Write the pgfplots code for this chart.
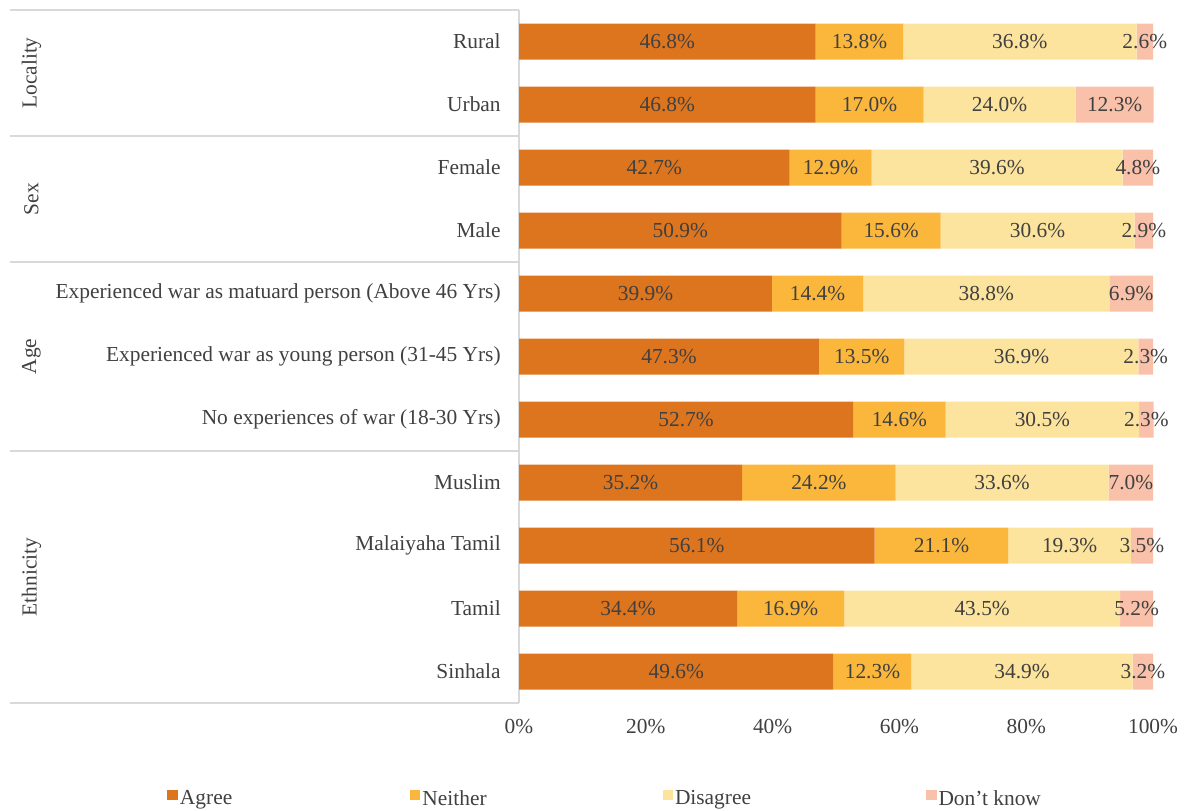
\documentclass[border=0pt]{standalone}
\usepackage{fontspec}
\setmainfont{Liberation Serif}
\usepackage{pgfplots}
\usepackage{pgfplotstable}
\pgfplotsset{compat=1.18}
\definecolor{agree}{RGB}{221,117,31}
\definecolor{neither}{RGB}{251,183,60}
\definecolor{disagree}{RGB}{253,228,158}
\definecolor{dk}{RGB}{250,193,170}
\definecolor{txt}{RGB}{64,64,64}
\definecolor{sep}{RGB}{217,217,217}
\pgfplotstableread{
y agree neither disagree dk
0 49.6 12.3 34.9 3.2
1 34.4 16.9 43.5 5.2
2 56.1 21.1 19.3 3.5
3 35.2 24.2 33.6 7.0
4 52.7 14.6 30.5 2.3
5 47.3 13.5 36.9 2.3
6 39.9 14.4 38.8 6.9
7 50.9 15.6 30.6 2.9
8 42.7 12.9 39.6 4.8
9 46.8 17.0 24.0 12.3
10 46.8 13.8 36.8 2.6
}\data
\begin{document}
\fontsize{21.4}{25}\selectfont
\begin{tikzpicture}
\begin{axis}[
  xbar stacked,
  scale only axis, width=634pt, height=693pt,
  xmin=0, xmax=100, ymin=-0.5, ymax=10.5,
  enlarge y limits=false,
  bar width=36pt,
  ytick={0,...,10},
  yticklabels={Sinhala, Tamil, Malaiyaha Tamil, Muslim, No experiences of war (18-30 Yrs), Experienced war as young person (31-45 Yrs), Experienced war as matuard person (Above 46 Yrs), Male, Female, Urban, Rural},
  xtick={0,20,...,100},
  xticklabel={\pgfmathprintnumber{\tick}\%},
  major tick length=0pt,
  axis line style={draw=none},
  clip=false,
  /pgf/number format/assume math mode=true,
  tick label style={text=txt},
  yticklabel style={xshift=-11pt},
  xticklabel style={yshift=-9pt},
  nodes near coords={\pgfmathprintnumber[fixed,fixed zerofill,precision=1]{\pgfplotspointmeta}\%},
  every node near coord/.append style={text=txt},
  legend columns=4,
  legend cell align=left,
  legend style={at={(rel axis cs:0.136,-0.139)}, anchor=center, draw=none, fill=none, inner sep=0pt, text=txt,
    /tikz/every even column/.append style={column sep=1pt}},
  legend image code/.code={\path[#1,draw=none] (0pt,-1pt) rectangle (10.5pt,9.5pt);},
]
\addplot[fill=agree,draw=none] table[x=agree,y=y]{\data};
\addplot[fill=neither,draw=none] table[x=neither,y=y]{\data};
\addplot[fill=disagree,draw=none] table[x=disagree,y=y]{\data};
\addplot[fill=dk,draw=none] table[x=dk,y=y]{\data};
\legend{\makebox[227pt][l]{Agree},\makebox[237pt][l]{Neither},\makebox[248pt][l]{Disagree},Don't know}
\draw[sep,line width=1.5pt] (axis cs:0,-0.5) -- (axis cs:0,10.5);
\draw[sep,line width=1.5pt] (axis cs:-80.3,10.5) -- (axis cs:0,10.5);
\draw[sep,line width=1.5pt] (axis cs:-80.3,8.5) -- (axis cs:0,8.5);
\draw[sep,line width=1.5pt] (axis cs:-80.3,6.5) -- (axis cs:0,6.5);
\draw[sep,line width=1.5pt] (axis cs:-80.3,3.5) -- (axis cs:0,3.5);
\draw[sep,line width=1.5pt] (axis cs:-80.3,-0.5) -- (axis cs:0,-0.5);
\node[rotate=90,text=txt] at (axis cs:-76.9,9.5) {Locality};
\node[rotate=90,text=txt] at (axis cs:-76.9,7.5) {Sex};
\node[rotate=90,text=txt] at (axis cs:-76.9,5) {Age};
\node[rotate=90,text=txt] at (axis cs:-76.9,1.5) {Ethnicity};
\path (axis cs:-81.86,10.659) rectangle (axis cs:105.2,-2.183);
\end{axis}
\end{tikzpicture}
\end{document}
